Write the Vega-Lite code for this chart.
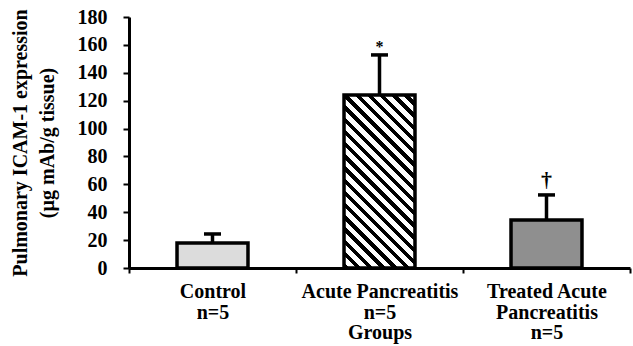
{
  "$schema": "https://vega.github.io/schema/vega-lite/v6.json",
  "width": 501,
  "height": 251,
  "autosize": {"type": "none"},
  "padding": {"left": 129, "top": 17, "right": 3, "bottom": 78},
  "background": "white",
  "config": {
    "view": {"stroke": null},
    "font": "Liberation Serif",
    "axisY": {
      "labelOverlap": false,
      "grid": false,
      "domainColor": "black", "domainWidth": 3,
      "tickColor": "black", "tickWidth": 2, "tickSize": 6,
      "labelFont": "Liberation Serif", "labelFontSize": 20, "labelFontWeight": "bold", "labelColor": "black",
      "labelPadding": 16,
      "titleFont": "Liberation Serif", "titleFontSize": 20, "titleFontWeight": "bold", "titleColor": "black",
      "titleLineHeight": 27,
      "titlePadding": 20
    }
  },
  "data": {"values": [
    {"group": "Control", "mean": 17.9, "upper": 24.4, "sig": ""},
    {"group": "Acute Pancreatitis", "mean": 124.1, "upper": 152.8, "sig": "*"},
    {"group": "Treated Acute Pancreatitis", "mean": 34.4, "upper": 52.4, "sig": "†"}
  ]},
  "encoding": {
    "x": {
      "field": "group", "type": "nominal", "sort": null,
      "scale": {"paddingInner": 0, "paddingOuter": 0},
      "axis": {
        "title": "Groups",
        "titleY": 64,
        "titleBaseline": "middle",
        "titleFont": "Liberation Serif", "titleFontSize": 20, "titleFontWeight": "bold", "titleColor": "black",
        "labelExpr": "datum.value === 'Treated Acute Pancreatitis' ? ['Treated Acute', 'Pancreatitis', 'n=5'] : (datum.value === 'Control' || datum.value === 'Acute Pancreatitis') ? [datum.value, 'n=5'] : ''",
        "labelAngle": 0,
        "labelBaseline": "middle",
        "labelPadding": 18.5,
        "labelLineHeight": 20.5,
        "labelOverlap": false,
        "labelFont": "Liberation Serif", "labelFontSize": 20, "labelFontWeight": "bold", "labelColor": "black",
        "tickBand": "extent",
        "tickSize": 5, "tickWidth": 2, "tickColor": "black",
        "domainColor": "black", "domainWidth": 3,
        "grid": false
      }
    }
  },
  "layer": [
    {
      "mark": {"type": "bar", "width": {"band": 0.425}, "stroke": "black", "strokeWidth": 3.5},
      "encoding": {
        "y": {
          "field": "mean", "type": "quantitative",
          "scale": {"domain": [0, 180]},
          "axis": {"title": ["Pulmonary ICAM-1 expression", "(µg mAb/g tissue)"], "values": [0, 20, 40, 60, 80, 100, 120, 140, 160, 180], "labelOverlap": false}
        },
        "fill": {
          "condition": [
            {"test": "datum.group === 'Acute Pancreatitis'", "value": {
              "gradient": "linear", "x1": 0, "y1": 1, "x2": 0.495, "y2": -0.207,
              "stops": [
                {"offset": 0, "color": "black"}, {"offset": 0.0225, "color": "black"}, {"offset": 0.0225, "color": "white"}, {"offset": 0.05, "color": "white"},
                {"offset": 0.05, "color": "black"}, {"offset": 0.0725, "color": "black"}, {"offset": 0.0725, "color": "white"}, {"offset": 0.1, "color": "white"},
                {"offset": 0.1, "color": "black"}, {"offset": 0.1225, "color": "black"}, {"offset": 0.1225, "color": "white"}, {"offset": 0.15, "color": "white"},
                {"offset": 0.15, "color": "black"}, {"offset": 0.1725, "color": "black"}, {"offset": 0.1725, "color": "white"}, {"offset": 0.2, "color": "white"},
                {"offset": 0.2, "color": "black"}, {"offset": 0.2225, "color": "black"}, {"offset": 0.2225, "color": "white"}, {"offset": 0.25, "color": "white"},
                {"offset": 0.25, "color": "black"}, {"offset": 0.2725, "color": "black"}, {"offset": 0.2725, "color": "white"}, {"offset": 0.3, "color": "white"},
                {"offset": 0.3, "color": "black"}, {"offset": 0.3225, "color": "black"}, {"offset": 0.3225, "color": "white"}, {"offset": 0.35, "color": "white"},
                {"offset": 0.35, "color": "black"}, {"offset": 0.3725, "color": "black"}, {"offset": 0.3725, "color": "white"}, {"offset": 0.4, "color": "white"},
                {"offset": 0.4, "color": "black"}, {"offset": 0.4225, "color": "black"}, {"offset": 0.4225, "color": "white"}, {"offset": 0.45, "color": "white"},
                {"offset": 0.45, "color": "black"}, {"offset": 0.4725, "color": "black"}, {"offset": 0.4725, "color": "white"}, {"offset": 0.5, "color": "white"},
                {"offset": 0.5, "color": "black"}, {"offset": 0.5225, "color": "black"}, {"offset": 0.5225, "color": "white"}, {"offset": 0.55, "color": "white"},
                {"offset": 0.55, "color": "black"}, {"offset": 0.5725, "color": "black"}, {"offset": 0.5725, "color": "white"}, {"offset": 0.6, "color": "white"},
                {"offset": 0.6, "color": "black"}, {"offset": 0.6225, "color": "black"}, {"offset": 0.6225, "color": "white"}, {"offset": 0.65, "color": "white"},
                {"offset": 0.65, "color": "black"}, {"offset": 0.6725, "color": "black"}, {"offset": 0.6725, "color": "white"}, {"offset": 0.7, "color": "white"},
                {"offset": 0.7, "color": "black"}, {"offset": 0.7225, "color": "black"}, {"offset": 0.7225, "color": "white"}, {"offset": 0.75, "color": "white"},
                {"offset": 0.75, "color": "black"}, {"offset": 0.7725, "color": "black"}, {"offset": 0.7725, "color": "white"}, {"offset": 0.8, "color": "white"},
                {"offset": 0.8, "color": "black"}, {"offset": 0.8225, "color": "black"}, {"offset": 0.8225, "color": "white"}, {"offset": 0.85, "color": "white"},
                {"offset": 0.85, "color": "black"}, {"offset": 0.8725, "color": "black"}, {"offset": 0.8725, "color": "white"}, {"offset": 0.9, "color": "white"},
                {"offset": 0.9, "color": "black"}, {"offset": 0.9225, "color": "black"}, {"offset": 0.9225, "color": "white"}, {"offset": 0.95, "color": "white"},
                {"offset": 0.95, "color": "black"}, {"offset": 0.9725, "color": "black"}, {"offset": 0.9725, "color": "white"}, {"offset": 1, "color": "white"}
              ]
            }},
            {"test": "datum.group === 'Treated Acute Pancreatitis'", "value": "#8f8f8f"}
          ],
          "value": "#dcdcdc"
        }
      }
    },
    {
      "mark": {"type": "rule", "strokeWidth": 3.5, "color": "black"},
      "encoding": {
        "y": {"field": "mean", "type": "quantitative", "axis": {"title": ["Pulmonary ICAM-1 expression", "(µg mAb/g tissue)"], "values": [0, 20, 40, 60, 80, 100, 120, 140, 160, 180], "labelOverlap": false}},
        "y2": {"field": "upper"}
      }
    },
    {
      "mark": {"type": "tick", "orient": "horizontal", "size": 17, "thickness": 3.5, "color": "black", "opacity": 1},
      "encoding": {
        "y": {"field": "upper", "type": "quantitative", "axis": {"title": ["Pulmonary ICAM-1 expression", "(µg mAb/g tissue)"], "values": [0, 20, 40, 60, 80, 100, 120, 140, 160, 180], "labelOverlap": false}}
      }
    },
    {
      "transform": [{"filter": "datum.sig === '*'"}],
      "mark": {"type": "text", "baseline": "alphabetic", "dy": -3, "fontSize": 16, "fontWeight": "bold", "font": "Liberation Serif", "color": "black"},
      "encoding": {
        "y": {"field": "upper", "type": "quantitative", "axis": {"title": ["Pulmonary ICAM-1 expression", "(µg mAb/g tissue)"], "values": [0, 20, 40, 60, 80, 100, 120, 140, 160, 180], "labelOverlap": false}},
        "text": {"field": "sig"}
      }
    },
    {
      "transform": [{"filter": "datum.sig === '†'"}],
      "mark": {"type": "text", "baseline": "alphabetic", "dy": -8, "fontSize": 22, "fontWeight": "bold", "font": "Liberation Serif", "color": "black"},
      "encoding": {
        "y": {"field": "upper", "type": "quantitative", "axis": {"title": ["Pulmonary ICAM-1 expression", "(µg mAb/g tissue)"], "values": [0, 20, 40, 60, 80, 100, 120, 140, 160, 180], "labelOverlap": false}},
        "text": {"field": "sig"}
      }
    }
  ]
}
